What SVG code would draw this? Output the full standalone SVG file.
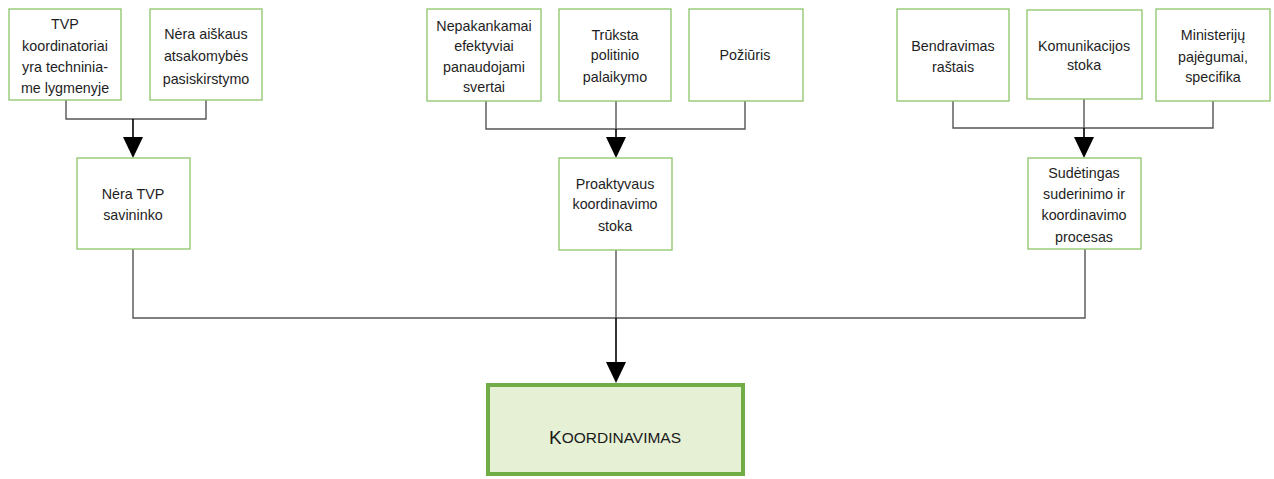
<svg xmlns="http://www.w3.org/2000/svg" width="1274" height="479" viewBox="0 0 1274 479">
  <style>
    .box { fill: #ffffff; stroke: #8cc46a; stroke-width: 1.3; }
    .main { fill: #e5f0d5; stroke: #70ad47; stroke-width: 4; }
    .lbl { font-family: "Liberation Sans", "DejaVu Sans", sans-serif; font-size: 14.3px; fill: #1e1e1e; text-anchor: middle; dominant-baseline: central; }
    .big { font-family: "Liberation Sans", "DejaVu Sans", sans-serif; fill: #1a1a1a; text-anchor: middle; dominant-baseline: central; }
    .wire { fill: none; stroke: #555555; stroke-width: 1.4; }
    .feed { fill: none; stroke: #000000; stroke-width: 1.6; }
    .tip { fill: #000000; }
  </style>

  <g id="connectors">
    <!-- left cluster -->
    <path class="wire" d="M66,100 V119 H206 V100"/>
    <path class="feed" d="M133,119 V137"/>
    <path class="tip" d="M123,137 H143 L133,158 Z"/>
    <!-- middle cluster -->
    <path class="wire" d="M486,101 V129 H745 V101"/>
    <path class="wire" d="M616,101 V129"/>
    <path class="feed" d="M616,129 V137"/>
    <path class="tip" d="M606,137 H626 L616,158 Z"/>
    <!-- right cluster -->
    <path class="wire" d="M953,101 V128 H1213 V101"/>
    <path class="wire" d="M1084,99 V128"/>
    <path class="feed" d="M1084,128 V137"/>
    <path class="tip" d="M1074,137 H1094 L1084,158 Z"/>
    <!-- trunk into the main node -->
    <path class="wire" d="M133,249 V318 H1085 V249"/>
    <path class="wire" d="M616,250 V318"/>
    <path class="feed" d="M616,318 V362"/>
    <path class="tip" d="M606,362 H626 L616,383 Z"/>
  </g>

  <g id="n1">
    <rect class="box" x="9" y="9" width="112" height="91"/>
    <text class="lbl" x="65" y="24">TVP</text>
    <text class="lbl" x="65" y="46">koordinatoriai</text>
    <text class="lbl" x="65" y="67">yra techninia-</text>
    <text class="lbl" x="65" y="88">me lygmenyje</text>
  </g>
  <g id="n2">
    <rect class="box" x="150" y="9" width="112" height="91"/>
    <text class="lbl" x="206" y="34">Nėra aiškaus</text>
    <text class="lbl" x="206" y="56">atsakomybės</text>
    <text class="lbl" x="206" y="79">pasiskirstymo</text>
  </g>
  <g id="n3">
    <rect class="box" x="77" y="158" width="113" height="91"/>
    <text class="lbl" x="133" y="194">Nėra TVP</text>
    <text class="lbl" x="133" y="215">savininko</text>
  </g>

  <g id="n4">
    <rect class="box" x="427" y="9" width="114" height="92"/>
    <text class="lbl" x="484" y="26">Nepakankamai</text>
    <text class="lbl" x="484" y="46">efektyviai</text>
    <text class="lbl" x="484" y="67">panaudojami</text>
    <text class="lbl" x="484" y="87">svertai</text>
  </g>
  <g id="n5">
    <rect class="box" x="559" y="9" width="112" height="92"/>
    <text class="lbl" x="615" y="35">Trūksta</text>
    <text class="lbl" x="615" y="55">politinio</text>
    <text class="lbl" x="615" y="77">palaikymo</text>
  </g>
  <g id="n6">
    <rect class="box" x="689" y="9" width="114" height="92"/>
    <text class="lbl" x="745" y="55">Požiūris</text>
  </g>
  <g id="n7">
    <rect class="box" x="559" y="158" width="113" height="92"/>
    <text class="lbl" x="615" y="184">Proaktyvaus</text>
    <text class="lbl" x="615" y="204">koordinavimo</text>
    <text class="lbl" x="615" y="226">stoka</text>
  </g>

  <g id="n8">
    <rect class="box" x="897" y="9" width="112" height="92"/>
    <text class="lbl" x="953" y="46">Bendravimas</text>
    <text class="lbl" x="953" y="67">raštais</text>
  </g>
  <g id="n9">
    <rect class="box" x="1027" y="10" width="115" height="89"/>
    <text class="lbl" x="1084" y="46">Komunikacijos</text>
    <text class="lbl" x="1084" y="65">stoka</text>
  </g>
  <g id="n10">
    <rect class="box" x="1156" y="9" width="114" height="92"/>
    <text class="lbl" x="1213" y="35">Ministerijų</text>
    <text class="lbl" x="1213" y="57">pajėgumai,</text>
    <text class="lbl" x="1213" y="77">specifika</text>
  </g>
  <g id="n11">
    <rect class="box" x="1028" y="158" width="113" height="91"/>
    <text class="lbl" x="1084" y="173">Sudėtingas</text>
    <text class="lbl" x="1084" y="194">suderinimo ir</text>
    <text class="lbl" x="1084" y="215">koordinavimo</text>
    <text class="lbl" x="1084" y="237">procesas</text>
  </g>

  <g id="main">
    <rect class="main" x="488" y="385" width="255" height="89"/>
    <text class="big" x="615" y="437"><tspan font-size="19">K</tspan><tspan font-size="15.5">OORDINAVIMAS</tspan></text>
  </g>
</svg>
